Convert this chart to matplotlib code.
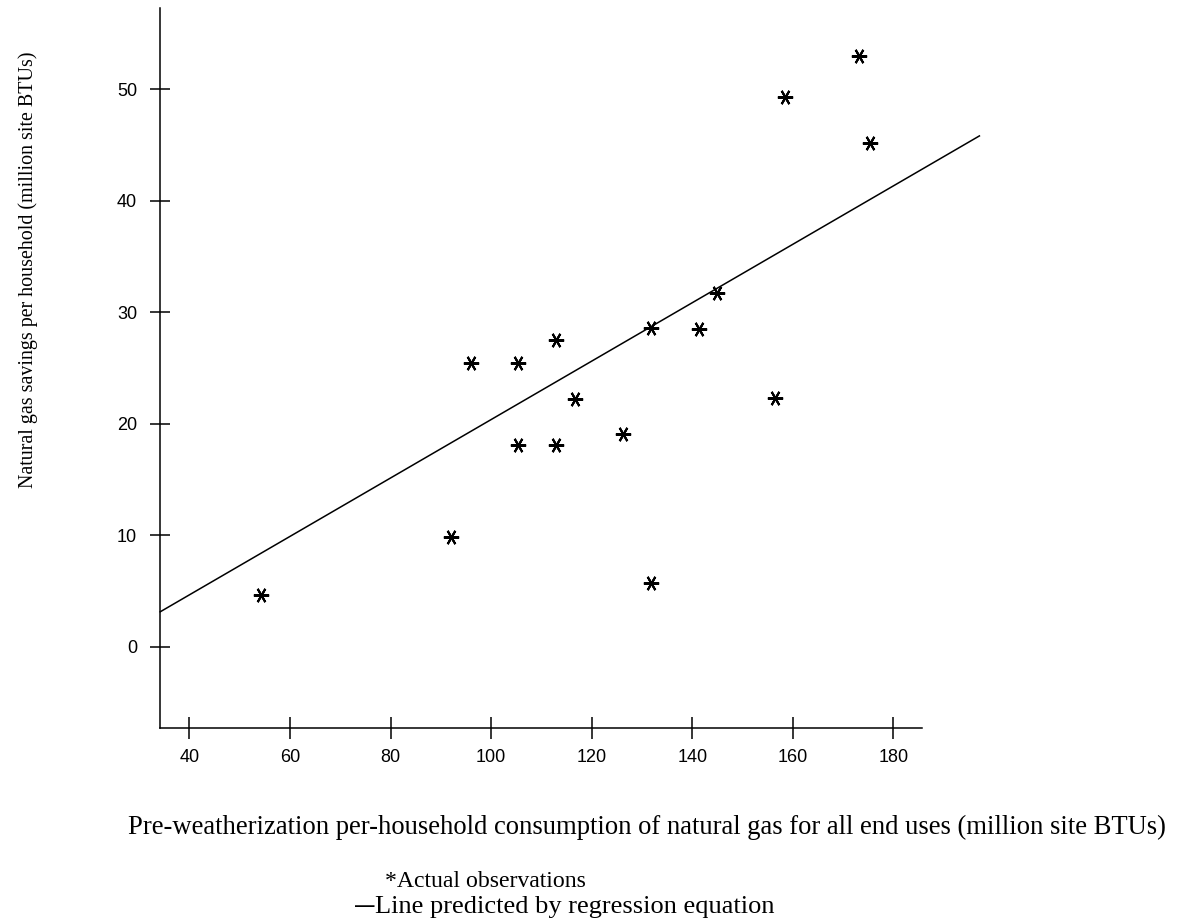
import matplotlib
matplotlib.use("Agg")
import matplotlib.pyplot as plt
import numpy as np

# Observed households: pre-weatherization consumption vs. savings
obs_consumption = [54.2, 92.1, 96.0, 105.4, 105.4, 112.9, 112.9, 116.7, 126.3,
                   131.8, 131.8, 141.4, 145.0, 156.5, 158.4, 173.1, 175.4]
obs_savings = [4.6, 9.8, 25.4, 25.4, 18.1, 27.5, 18.1, 22.2, 19.1,
               28.6, 5.7, 28.5, 31.7, 22.3, 49.3, 53.0, 45.2]

# Regression line (savings = a + b * consumption) and where it is drawn
reg_intercept = -5.83
reg_slope = 0.262
reg_x = [34.2, 197.1]

x_ticks = [40, 60, 80, 100, 120, 140, 160, 180]
y_ticks = [0, 10, 20, 30, 40, 50]

serif = ["Liberation Serif", "DejaVu Serif"]
sans = ["Liberation Sans", "DejaVu Sans"]

fig = plt.figure(figsize=(11.78, 9.21), dpi=100)
ax = fig.add_axes([0.1361, 0.2099, 0.6469, 0.7814])

# regression line runs past the end of the x axis, as in the original
line_x = np.array(reg_x)
ax.plot(line_x, reg_intercept + reg_slope * line_x, color="black", lw=1.1,
        clip_on=False)

# observations drawn as asterisks
ax.plot(obs_consumption, obs_savings, linestyle="none", marker=(6, 2, 30),
        markersize=11, markeredgewidth=1.5, color="black")

ax.set_xlim(34.23, 185.76)
ax.set_ylim(-7.26, 57.28)

for side in ["top", "right"]:
    ax.spines[side].set_visible(False)
for side in ["left", "bottom"]:
    ax.spines[side].set_linewidth(1.1)

ax.set_xticks(x_ticks)
ax.set_yticks(y_ticks)
ax.tick_params(axis="x", direction="inout", length=16.5, width=1.1, pad=7,
               labelsize=13)
ax.tick_params(axis="y", direction="inout", length=14.4, width=1.1, pad=9.5,
               labelsize=13)
for lab in ax.get_xticklabels() + ax.get_yticklabels():
    lab.set_family(sans)

ax.set_ylabel("Natural gas savings per household (million site BTUs)",
              family=serif, fontsize=14.4)
ax.yaxis.set_label_coords(-0.16, 0.636)
ax.set_xlabel("Pre-weatherization per-household consumption of natural gas "
              "for all end uses (million site BTUs)", family=serif,
              fontsize=19.2)
ax.xaxis.set_label_coords(0.638, -0.121)

# the key sits under the axis label as plain lines of text
fig.text(385 / 1178, 1 - 881 / 921, "*Actual observations", family=serif,
         fontsize=17.1, ha="left", va="center")
fig.text(355 / 1178, 1 - 906 / 921, "\u2014", family=sans, fontsize=14,
         fontweight="bold", ha="left", va="center")
fig.text(375 / 1178, 1 - 907 / 921, "Line predicted by regression equation",
         family=serif, fontsize=19, ha="left", va="center")

fig.savefig("out.png", dpi=100)
